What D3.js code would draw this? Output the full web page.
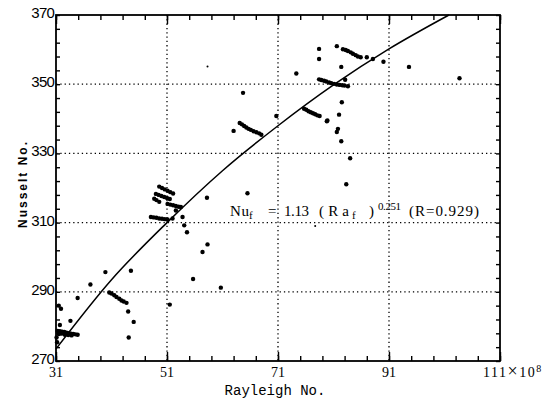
<!DOCTYPE html>
<html>
<head>
<meta charset="utf-8">
<script src="https://cdn.jsdelivr.net/npm/d3@7"></script>
<style>
  body { margin: 0; background: #fff; }
  svg { display: block; }
</style>
</head>
<body>
<div id="container"></div>
<script>
// values: [Rayleigh (x1e8), Nusselt]
const lowCluster = [
  [31.3, 278.7], [31.7, 278.6], [32.1, 278.5], [32.5, 278.4], [32.9, 278.2], [33.3, 278.0],
  [33.7, 277.9], [34.1, 277.8], [34.5, 277.7], [34.9, 277.6],
  [31.5, 277.8], [32.0, 277.9], [32.6, 277.6], [33.2, 277.5], [33.8, 277.4],
  [31.1, 276.8], [31.2, 275.4], [31.7, 280.4], [33.6, 281.6], [31.5, 286.0], [31.9, 285.1]
];
const midLow = [
  [34.9, 288.2], [37.2, 292.1], [39.9, 295.7], [44.5, 296.1],
  [40.6, 289.8], [41.0, 289.5], [41.5, 289.0], [41.9, 288.5], [42.4, 288.0], [42.8, 287.5],
  [43.2, 287.2], [43.7, 286.8], [44.0, 284.3], [45.0, 281.3], [44.1, 276.8]
];
const midCluster = [
  [49.6, 320.4], [50.1, 320.0], [50.6, 319.6], [51.1, 319.2], [51.6, 318.8], [52.1, 318.4],
  [49.0, 318.3], [49.5, 318.0], [50.0, 317.7], [50.5, 317.4], [51.0, 317.1], [51.5, 316.8],
  [48.7, 316.9], [49.1, 316.5], [49.6, 316.0],
  [51.1, 315.4], [51.6, 315.2], [52.1, 315.0], [52.6, 314.8], [53.1, 314.6], [53.5, 314.5],
  [52.6, 313.5],
  [48.1, 311.6], [48.6, 311.5], [49.1, 311.4], [49.6, 311.2], [50.1, 311.1], [50.6, 311.0], [51.1, 310.9],
  [52.0, 311.2], [53.8, 311.6], [54.1, 309.2], [54.6, 307.2],
  [51.5, 286.3], [55.7, 293.7], [57.4, 301.5], [58.3, 303.7], [60.7, 291.2], [58.2, 317.2], [65.5, 318.5]
];
const upperMid = [
  [63.0, 336.5],
  [64.1, 338.8], [64.5, 338.4], [64.9, 337.9], [65.3, 337.5], [65.7, 337.1], [66.1, 336.8],
  [66.6, 336.4], [67.1, 336.1], [67.6, 335.8], [68.0, 335.4],
  [64.7, 347.5], [70.7, 340.8],
  [75.7, 342.9], [76.1, 342.6], [76.5, 342.2], [76.9, 341.9], [77.3, 341.6], [77.7, 341.3],
  [78.1, 341.0], [78.5, 340.8], [79.9, 339.5], [79.8, 339.3],
  [81.8, 337.1], [81.6, 336.2], [82.4, 333.5], [82.0, 341.2], [82.5, 344.8], [84.0, 328.6], [83.3, 321.1]
];
const highCluster = [
  [74.3, 353.1],
  [78.4, 351.4], [78.8, 351.2], [79.3, 351.0], [79.7, 350.8], [80.2, 350.5], [80.6, 350.3],
  [81.1, 350.1], [81.6, 349.9], [82.1, 349.8], [82.6, 349.7], [83.0, 349.6], [83.6, 349.4],
  [83.1, 351.3], [82.4, 355.0],
  [78.4, 360.2], [78.4, 357.3], [81.6, 361.0],
  [82.7, 360.1], [83.2, 359.9], [83.6, 359.6], [84.1, 359.2], [84.5, 358.8], [85.0, 358.4],
  [85.4, 358.0], [85.9, 357.8],
  [87.0, 357.8], [88.1, 357.3], [90.0, 356.5], [94.6, 355.0], [103.7, 351.7]
];
const faintDots = [[58.3, 355.1], [77.7, 309.0]];

// fitted curve
const fitCurve = [
  [31, 273.5], [41, 293.5], [51, 310], [61, 325], [71, 338], [81, 349.8], [91, 360.2], [101.8, 370]
];

const xMajor = [31, 51, 71, 91, 111];
const yMajor = [270, 290, 310, 330, 350, 370];
const xMinor = d3.range(31, 112, 4);
const yMinor = d3.range(270, 371, 4);

const width = 556, height = 405;
const mLeft = 56, mRight = 500, mTop = 15, mBottom = 361;

const x = d3.scaleLinear().domain([31, 111]).range([mLeft, mRight]);
const y = d3.scaleLinear().domain([270, 370]).range([mBottom, mTop]);

const svg = d3.create("svg")
  .attr("width", width)
  .attr("height", height);

// dotted grid
const grid = svg.append("g")
  .attr("stroke", "#000")
  .attr("stroke-width", 1.3)
  .attr("stroke-dasharray", "1.3,3");
grid.selectAll("line.gx")
  .data(xMajor.slice(1, -1))
  .join("line")
  .attr("class", "gx")
  .attr("x1", d => x(d)).attr("x2", d => x(d))
  .attr("y1", mTop).attr("y2", mBottom);
grid.selectAll("line.gy")
  .data(yMajor.slice(1, -1))
  .join("line")
  .attr("class", "gy")
  .attr("x1", mLeft).attr("x2", mRight)
  .attr("y1", d => y(d)).attr("y2", d => y(d));

// inward ticks on all four sides
function tickAxis(axis, pos, values, size) {
  const g = svg.append("g")
    .attr("transform", pos)
    .call(axis.tickValues(values).tickSize(size).tickSizeOuter(0).tickFormat(""));
  g.select(".domain").remove();
  g.selectAll("line").attr("stroke", "#000").attr("stroke-width", 1.4);
  return g;
}
tickAxis(d3.axisBottom(x), `translate(0,${mBottom})`, xMinor, -5);
tickAxis(d3.axisBottom(x), `translate(0,${mBottom})`, xMajor, -9);
tickAxis(d3.axisTop(x), `translate(0,${mTop})`, xMinor, -5);
tickAxis(d3.axisTop(x), `translate(0,${mTop})`, xMajor, -9);
tickAxis(d3.axisLeft(y), `translate(${mLeft},0)`, yMinor, -4);
tickAxis(d3.axisRight(y), `translate(${mRight},0)`, yMinor, -4);

// frame
svg.append("rect")
  .attr("x", mLeft).attr("y", mTop)
  .attr("width", mRight - mLeft).attr("height", mBottom - mTop)
  .attr("fill", "none")
  .attr("stroke", "#000")
  .attr("stroke-width", 1.8);

// y tick labels
svg.append("g")
  .selectAll("text")
  .data(yMajor)
  .join("text")
  .attr("x", mLeft - 2)
  .attr("y", d => y(d) + 3)
  .attr("text-anchor", "end")
  .style("font", "15px 'Liberation Sans Narrow', 'Liberation Sans', Arial, sans-serif")
  .style("letter-spacing", "-0.8px")
  .text(d => d);

// x tick labels
svg.append("g")
  .selectAll("text")
  .data(xMajor.slice(0, -1))
  .join("text")
  .attr("x", d => x(d))
  .attr("y", mBottom + 16)
  .attr("text-anchor", "middle")
  .style("font", "14px 'Liberation Serif', 'Times New Roman', serif")
  .text(d => d);

const lastLab = svg.append("text")
  .attr("x", x(111) - 17)
  .attr("y", mBottom + 16)
  .style("font", "14px 'Liberation Serif', 'Times New Roman', serif")
  .style("letter-spacing", "1.5px");
lastLab.append("tspan").text(xMajor[xMajor.length - 1]);
lastLab.append("tspan").style("font-size", "18px").text("×");
lastLab.append("tspan").text("10");
lastLab.append("tspan").attr("dy", -5).style("font-size", "10px").text("8");

// axis titles
svg.append("text")
  .attr("x", 275)
  .attr("y", 395)
  .attr("text-anchor", "middle")
  .style("font", "14px 'Liberation Mono', 'Courier New', monospace")
  .text("Rayleigh No.");

svg.append("text")
  .attr("transform", `translate(27,${(mTop + mBottom) / 2 - 4}) rotate(-90)`)
  .attr("text-anchor", "middle")
  .style("font", "bold 12px 'Liberation Sans', Arial, sans-serif")
  .style("letter-spacing", "2px")
  .text("Nusselt No.");

// fitted curve
svg.append("path")
  .datum(fitCurve)
  .attr("fill", "none")
  .attr("stroke", "#000")
  .attr("stroke-width", 1.5)
  .attr("d", d3.line().x(d => x(d[0])).y(d => y(d[1])).curve(d3.curveMonotoneX));

// data points
const allDots = [].concat(lowCluster, midLow, midCluster, upperMid, highCluster);
svg.append("g")
  .selectAll("circle")
  .data(allDots)
  .join("circle")
  .attr("cx", d => x(d[0]))
  .attr("cy", d => y(d[1]))
  .attr("r", 2.2)
  .attr("fill", "#000");
svg.append("g")
  .selectAll("circle")
  .data(faintDots)
  .join("circle")
  .attr("cx", d => x(d[0]))
  .attr("cy", d => y(d[1]))
  .attr("r", 1)
  .attr("fill", "#000");

// equation label
const eqFont = "15px 'Liberation Serif', 'Times New Roman', serif";
const eq = svg.append("g").style("font", eqFont);
eq.append("text").attr("x", 230).attr("y", 216).attr("textLength", 19).text("Nu");
eq.append("text").attr("x", 249).attr("y", 219).style("font-size", "11px").text("f");
eq.append("text").attr("x", 268).attr("y", 216).text("=");
eq.append("text").attr("x", 284).attr("y", 216).attr("textLength", 25).text("1.13");
eq.append("text").attr("x", 319).attr("y", 216).attr("textLength", 30).text("(Ra");
eq.append("text").attr("x", 352).attr("y", 219).style("font-size", "11px").text("f");
eq.append("text").attr("x", 369).attr("y", 216).text(")");
eq.append("text").attr("x", 378).attr("y", 210).style("font-size", "11px")
  .attr("textLength", 23).text("0.251");
eq.append("text").attr("x", 409).attr("y", 216).attr("textLength", 70).text("(R=0.929)");

document.getElementById("container").append(svg.node());
</script>
</body>
</html>
